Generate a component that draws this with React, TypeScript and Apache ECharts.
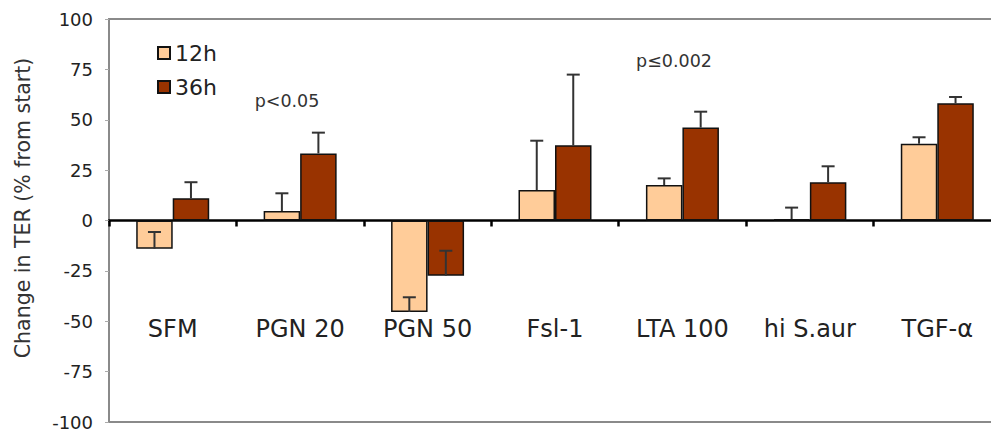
import React, { useEffect, useRef } from "react";
import * as echarts from "echarts";

const categories = ["SFM", "PGN 20", "PGN 50", "Fsl-1", "LTA 100", "hi S.aur", "TGF-α"];
const values12h = [-14, 4.7, -45.4, 15.1, 17.6, 0.7, 38.1];
const err12h = [8.3, 8.8, 7.3, 24.5, 3.3, 5.7, 3.2];
const values36h = [11, 33.3, -27.4, 37.3, 46.1, 19.0, 58.2];
const err36h = [8, 10.3, 12.4, 35.1, 7.9, 7.9, 3.1];
const annotations = [
  { text: "p<0.05", x: 287, y: 101 },
  { text: "p≤0.002", x: 674, y: 61 },
];

const FONT = "Verdana, 'DejaVu Sans', sans-serif";
const BAR_W = 36.5;

function errSeries(name: string, vals: number[], errs: number[], offset: number) {
  return {
    name,
    type: "custom",
    z: 5,
    silent: true,
    encode: { x: 0, y: 1 },
    data: vals.map((v, i) => [i, v, errs[i]]),
    renderItem: (_params: any, api: any) => {
      const idx = api.value(0);
      const v = api.value(1);
      const e = api.value(2);
      const p0 = api.coord([idx, v]);
      const p1 = api.coord([idx, v + e]);
      const x = p0[0] + offset;
      const st = { stroke: "#333", lineWidth: 2 };
      return {
        type: "group",
        children: [
          { type: "line", shape: { x1: x, y1: p0[1], x2: x, y2: p1[1] }, style: st },
          { type: "line", shape: { x1: x - 6.5, y1: p1[1], x2: x + 6.5, y2: p1[1] }, style: st },
        ],
      };
    },
  };
}

export default function App() {
  const ref = useRef<HTMLDivElement>(null);
  useEffect(() => {
    if (!ref.current) return;
    const chart = echarts.init(ref.current, undefined, { renderer: "svg" });
    chart.setOption({
      animation: false,
      backgroundColor: "#fff",
      textStyle: { fontFamily: FONT },
      grid: {
        left: 109,
        top: 19,
        width: 892,
        height: 403,
        show: true,
        borderColor: "#8a8a8a",
        borderWidth: 2,
        containLabel: false,
        outerBoundsMode: "none",
      },
      legend: {
        data: ["12h", "36h"],
        orient: "vertical",
        left: 152,
        top: 37,
        icon: "rect",
        itemWidth: 12,
        itemHeight: 12,
        itemGap: 12,
        textStyle: { fontSize: 22, color: "#222", fontFamily: FONT },
      },
      xAxis: {
        type: "category",
        data: categories,
        axisLine: { onZero: true, lineStyle: { color: "#000", width: 2.5 } },
        axisTick: { show: true, length: 6, lineStyle: { color: "#000", width: 2.5 } },
        axisLabel: { margin: -105, fontSize: 24, color: "#222", fontFamily: FONT },
        splitLine: { show: false },
      },
      yAxis: {
        type: "value",
        min: -100,
        max: 100,
        interval: 25,
        name: "Change in TER (% from start)",
        nameLocation: "middle",
        nameRotate: 90,
        nameGap: 76,
        nameTextStyle: { fontSize: 20.5, color: "#333", fontFamily: FONT, padding: [0, 0, 0, 25] },
        axisLine: { show: true, lineStyle: { color: "#8a8a8a", width: 2 } },
        axisTick: { show: true, length: 4, lineStyle: { color: "#aaa", width: 1 } },
        axisLabel: { fontSize: 18, color: "#222", margin: 16, fontFamily: FONT },
        splitLine: { show: false },
      },
      series: [
        {
          name: "12h",
          type: "bar",
          data: values12h,
          barWidth: BAR_W,
          barGap: "0%",
          itemStyle: { color: "#FFCC99", borderColor: "#111", borderWidth: 1.5 },
        },
        {
          name: "36h",
          type: "bar",
          data: values36h,
          barWidth: BAR_W,
          barGap: "0%",
          itemStyle: { color: "#993300", borderColor: "#111", borderWidth: 1.5 },
        },
        errSeries("err12", values12h, err12h, -BAR_W / 2),
        errSeries("err36", values36h, err36h, BAR_W / 2),
      ],
      graphic: annotations.map((a) => ({
        type: "text",
        x: a.x,
        y: a.y,
        style: {
          text: a.text,
          fontSize: 17.5,
          fill: "#333",
          fontFamily: FONT,
          align: "center",
          verticalAlign: "middle",
        },
      })),
    });
    return () => chart.dispose();
  }, []);
  return (
    <div
      ref={ref}
      style={{ position: "absolute", left: 0, top: 0, width: 991, height: 431 }}
    />
  );
}
